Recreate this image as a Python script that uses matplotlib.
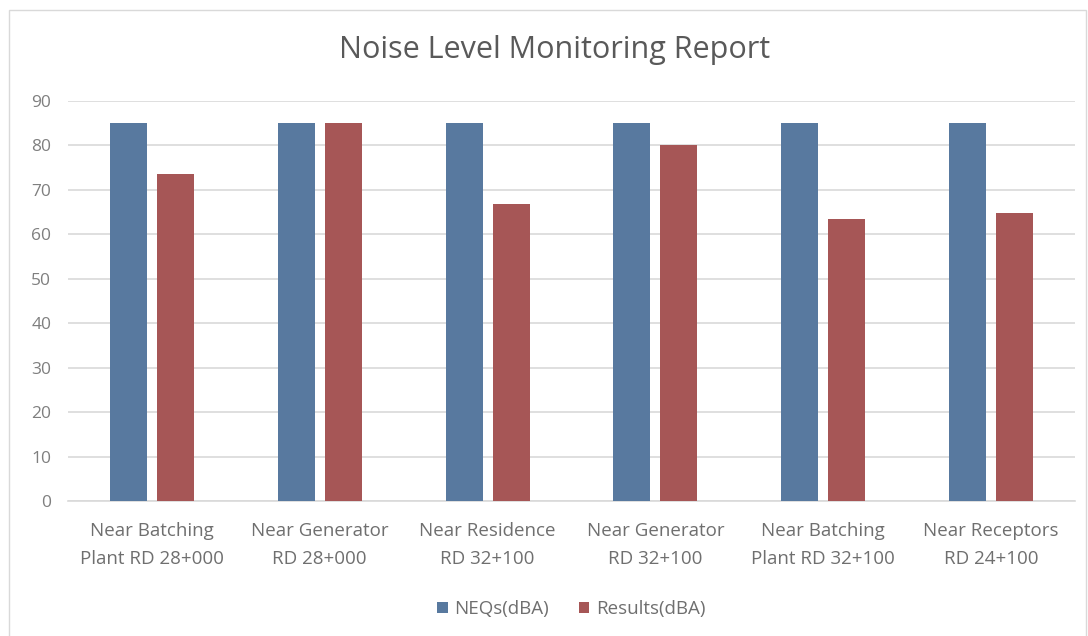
import matplotlib
matplotlib.use("Agg")
import matplotlib.pyplot as plt
import numpy as np
from matplotlib.patches import Rectangle

# --- data ---------------------------------------------------------------------
categories = ["Near Batching\nPlant RD 28+000", "Near Generator\nRD 28+000",
              "Near Residence\nRD 32+100", "Near Generator\nRD 32+100",
              "Near Batching\nPlant RD 32+100", "Near Receptors\nRD 24+100"]
neqs = [85, 85, 85, 85, 85, 85]
results = [73.6, 85, 66.8, 80.1, 63.5, 64.8]
series_names = ["NEQs(dBA)", "Results(dBA)"]

plt.rcParams['font.family'] = ['Open Sans', 'DejaVu Sans']

fig = plt.figure(figsize=(10.88, 6.36), dpi=100)
ax = fig.add_axes([0.0625, 0.2123, 0.9255, 0.6289])

x = np.arange(len(categories))
w = 0.22
off = 0.14
ax.bar(x - off, neqs, w, color='#58799f', label=series_names[0], zorder=3)
ax.bar(x + off, results, w, color='#a65656', label=series_names[1], zorder=3)

ax.set_xlim(-0.5, len(categories) - 0.5)
ax.set_ylim(0, 90)
ax.set_yticks(range(0, 91, 10))
ax.yaxis.grid(True, color='#d9d9d9', linewidth=1.2, zorder=0)
ax.set_axisbelow(True)
for s in ['top', 'right', 'left']:
    ax.spines[s].set_visible(False)
ax.spines['bottom'].set_color('#d9d9d9')
ax.spines['bottom'].set_linewidth(1.2)
ax.tick_params(axis='y', length=0, pad=12, labelsize=12.5, labelcolor='#7f7f7f')
ax.tick_params(axis='x', length=0, pad=15, labelsize=13.5, labelcolor='#6f6f6f')
ax.set_xticks(x)
ax.set_xticklabels(categories, linespacing=1.75)

fig.text(0.51, 0.921, "Noise Level Monitoring Report", ha='center', va='center',
         fontsize=22, color='#595959')

ax.legend(loc='center', bbox_to_anchor=(0.5, -0.27), ncol=2, frameon=False,
          fontsize=13.5, labelcolor='#6f6f6f', handlelength=0.55, handleheight=0.55,
          handletextpad=0.35, columnspacing=1.6)

# light chart border
fig.patches.append(Rectangle((0.008, -0.01), 0.99, 0.995, transform=fig.transFigure,
                             fill=False, edgecolor='#d9d9d9', linewidth=1))

fig.savefig("out.png", dpi=100)
